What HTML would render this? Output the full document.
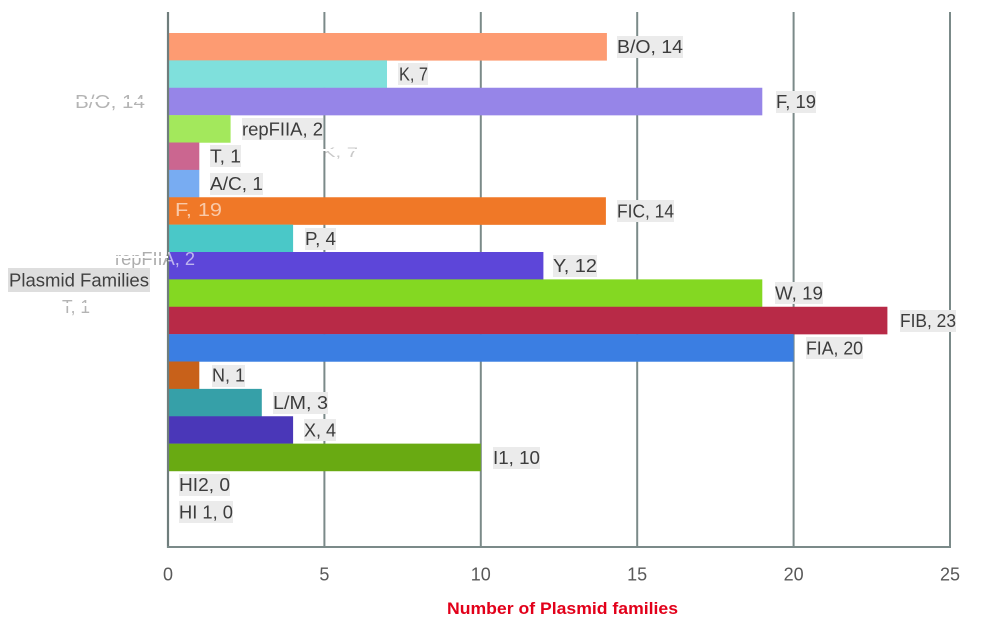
<!DOCTYPE html>
<html>
<head>
<meta charset="utf-8">
<style>
  html,body{margin:0;padding:0;background:#fff;}
  svg{display:block;}
  text{font-family:"Liberation Sans", Arial, sans-serif;}
</style>
</head>
<body>
<svg width="982" height="629" viewBox="0 0 982 629" xmlns="http://www.w3.org/2000/svg">
  <defs>
    <clipPath id="clL"><rect x="100" y="240" width="68" height="30"/></clipPath>
    <clipPath id="clR"><rect x="168" y="240" width="60" height="30"/></clipPath>
  </defs>
  <rect width="982" height="629" fill="#ffffff"/>

  <!-- gridlines -->
  <g stroke="#7b8a89" stroke-width="2">
    <line x1="324.4" y1="12" x2="324.4" y2="547"/>
    <line x1="480.8" y1="12" x2="480.8" y2="547"/>
    <line x1="637.2" y1="12" x2="637.2" y2="547"/>
    <line x1="793.6" y1="12" x2="793.6" y2="547"/>
    <line x1="950" y1="12" x2="950" y2="547"/>
  </g>

  <!-- bars -->
  <g>
    <rect x="169" y="33"      width="437.9" height="27.6" fill="#FD9B72"/>
    <rect x="169" y="60.375"  width="218.0" height="27.6" fill="#7FE0DC"/>
    <rect x="169" y="87.75"   width="593.3" height="27.6" fill="#9685E8"/>
    <rect x="169" y="115.125" width="61.6"  height="27.6" fill="#A3E85C"/>
    <rect x="169" y="142.5"   width="30.3"  height="27.6" fill="#CB6690"/>
    <rect x="169" y="169.875" width="30.3"  height="27.6" fill="#78ACF2"/>
    <rect x="169" y="197.25"  width="436.9" height="27.6" fill="#F07827"/>
    <rect x="169" y="224.625" width="124.1" height="27.6" fill="#4AC8C8"/>
    <rect x="169" y="252"     width="374.4" height="27.6" fill="#5D46D9"/>
    <rect x="169" y="279.375" width="593.3" height="27.6" fill="#84D822"/>
    <rect x="169" y="306.75"  width="718.4" height="27.6" fill="#B82A47"/>
    <rect x="169" y="334.125" width="624.6" height="27.6" fill="#3B7EE2"/>
    <rect x="169" y="361.5"   width="30.3"  height="27.6" fill="#C8611A"/>
    <rect x="169" y="388.875" width="92.8"  height="27.6" fill="#36A0A8"/>
    <rect x="169" y="416.25"  width="124.1" height="27.6" fill="#4A37B8"/>
    <rect x="169" y="443.625" width="311.8" height="27.6" fill="#69AA12"/>
  </g>

  <!-- axis lines -->
  <line x1="168" y1="12" x2="168" y2="548" stroke="#6f7d7c" stroke-width="2.2"/>
  <line x1="167" y1="547" x2="951" y2="547" stroke="#7b8a89" stroke-width="2"/>

  <!-- ghost artifacts -->
  <g fill="#777" font-size="18" opacity="0.55">
    <text x="75" y="108" textLength="70" lengthAdjust="spacingAndGlyphs">B/O, 14</text>
    <text x="62" y="313" textLength="28" lengthAdjust="spacingAndGlyphs">T, 1</text>
  </g>
  <rect x="70" y="99" width="80" height="3" fill="#fff"/>
  <rect x="55" y="303" width="40" height="3" fill="#fff"/>
  <text x="322" y="157" textLength="36" lengthAdjust="spacingAndGlyphs" font-size="14" fill="#888" opacity="0.45">K, 7</text>
  <rect x="318" y="149" width="44" height="2" fill="#fff"/>
  <text x="175" y="216" textLength="47" lengthAdjust="spacingAndGlyphs" font-size="18" fill="#ffffff" opacity="0.6">F, 19</text>
  <text x="115" y="265" textLength="80" lengthAdjust="spacingAndGlyphs" font-size="18" fill="#777" opacity="0.6" clip-path="url(#clL)">repFIIA, 2</text>
  <text x="115" y="265" textLength="80" lengthAdjust="spacingAndGlyphs" font-size="18" fill="#ffffff" opacity="0.6" clip-path="url(#clR)">repFIIA, 2</text>
  <rect x="110" y="256" width="58" height="2" fill="#fff"/>

  <!-- y axis title -->
  <rect x="8" y="268" width="142" height="24" fill="#dedede"/>
  <text x="9" y="286.5" font-size="18" fill="#404040" textLength="140" lengthAdjust="spacingAndGlyphs">Plasmid Families</text>

  <!-- data labels -->
  <g font-size="18" fill="#3c3c3c">
    <g fill="#ebebeb">
      <rect x="617" y="36" width="66" height="22"/>
      <rect x="398" y="63" width="30" height="22"/>
      <rect x="776" y="91" width="40" height="22"/>
      <rect x="242" y="118" width="81" height="22"/>
      <rect x="210" y="145" width="31" height="22"/>
      <rect x="210" y="173" width="53" height="22"/>
      <rect x="617" y="200" width="57" height="22"/>
      <rect x="305" y="228" width="31" height="22"/>
      <rect x="553" y="255" width="44" height="22"/>
      <rect x="775" y="282" width="48" height="22"/>
      <rect x="900" y="310" width="56" height="22"/>
      <rect x="806" y="337" width="57" height="22"/>
      <rect x="212" y="365" width="33" height="22"/>
      <rect x="273" y="392" width="55" height="22"/>
      <rect x="304" y="419" width="32" height="22"/>
      <rect x="493" y="447" width="47" height="22"/>
      <rect x="179" y="474" width="51" height="22"/>
      <rect x="179" y="501" width="54" height="22"/>
    </g>
    <text x="617" y="53.2"  textLength="66" lengthAdjust="spacingAndGlyphs">B/O, 14</text>
    <text x="399" y="80.6"  textLength="29" lengthAdjust="spacingAndGlyphs">K, 7</text>
    <text x="776" y="108"   textLength="40" lengthAdjust="spacingAndGlyphs">F, 19</text>
    <text x="242" y="135.3" textLength="81" lengthAdjust="spacingAndGlyphs">repFIIA, 2</text>
    <text x="210" y="162.7" textLength="31" lengthAdjust="spacingAndGlyphs">T, 1</text>
    <text x="210" y="190.1" textLength="53" lengthAdjust="spacingAndGlyphs">A/C, 1</text>
    <text x="617" y="217.4" textLength="57" lengthAdjust="spacingAndGlyphs">FIC, 14</text>
    <text x="305" y="244.8" textLength="31" lengthAdjust="spacingAndGlyphs">P, 4</text>
    <text x="553" y="272.2" textLength="44" lengthAdjust="spacingAndGlyphs">Y, 12</text>
    <text x="775" y="299.6" textLength="48" lengthAdjust="spacingAndGlyphs">W, 19</text>
    <text x="900" y="326.9" textLength="56" lengthAdjust="spacingAndGlyphs">FIB, 23</text>
    <text x="806" y="354.3" textLength="57" lengthAdjust="spacingAndGlyphs">FIA, 20</text>
    <text x="212" y="381.7" textLength="33" lengthAdjust="spacingAndGlyphs">N, 1</text>
    <text x="273" y="409.1" textLength="55" lengthAdjust="spacingAndGlyphs">L/M, 3</text>
    <text x="304" y="436.4" textLength="32" lengthAdjust="spacingAndGlyphs">X, 4</text>
    <text x="493" y="463.8" textLength="47" lengthAdjust="spacingAndGlyphs">I1, 10</text>
    <text x="179" y="491.2" textLength="51" lengthAdjust="spacingAndGlyphs">HI2, 0</text>
    <text x="179" y="518.6" textLength="54" lengthAdjust="spacingAndGlyphs">HI 1, 0</text>
  </g>

  <!-- tick labels -->
  <g font-size="18" fill="#595959" text-anchor="middle">
    <text x="168" y="580.5">0</text>
    <text x="324.4" y="580.5">5</text>
    <text x="480.8" y="580.5">10</text>
    <text x="637.2" y="580.5">15</text>
    <text x="793.6" y="580.5">20</text>
    <text x="950" y="580.5">25</text>
  </g>

  <!-- x axis title -->
  <text x="447" y="614" font-size="17" font-weight="bold" fill="#E2001A" textLength="231" lengthAdjust="spacingAndGlyphs">Number of Plasmid families</text>
</svg>
</body>
</html>
